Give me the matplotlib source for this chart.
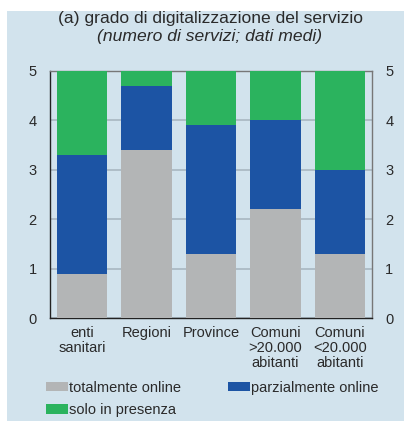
import matplotlib
matplotlib.use("Agg")
import matplotlib.pyplot as plt
from matplotlib.patches import Rectangle, Patch
import numpy as np

plt.rcParams['font.family'] = ['Liberation Sans', 'DejaVu Sans']

categories = ["enti\nsanitari", "Regioni", "Province", "Comuni\n>20.000\nabitanti", "Comuni\n<20.000\nabitanti"]
totalmente_online = [0.9, 3.4, 1.3, 2.2, 1.3]
parzialmente_online = [2.4, 1.3, 2.6, 1.8, 1.7]
solo_in_presenza = [1.7, 0.3, 1.1, 1.0, 2.0]
series_labels = ["totalmente online", "parzialmente online", "solo in presenza"]
yticks = [0, 1, 2, 3, 4, 5]

c_gray = "#b3b5b6"
c_blue = "#1c54a4"
c_green = "#2bb35e"
bg = "#d2e3ed"
txt = "#2a2a2a"

W, H = 413, 421
fig = plt.figure(figsize=(W / 100, H / 100), dpi=100, facecolor="white")
fig.patches.append(Rectangle((7 / W, 0), (404 - 7) / W, (H - 11) / H,
                             transform=fig.transFigure, facecolor=bg, edgecolor="none", zorder=-10))

ax = fig.add_axes([50 / W, (H - 318) / H, 322 / W, 247 / H])
ax.set_facecolor(bg)

x = np.arange(len(categories))
w = 0.78
g = np.array(totalmente_online)
b = np.array(parzialmente_online)
s = np.array(solo_in_presenza)
ax.bar(x, g, w, color=c_gray, zorder=3)
ax.bar(x, b, w, bottom=g, color=c_blue, zorder=3)
ax.bar(x, s, w, bottom=g + b, color=c_green, zorder=3)

ax.set_xlim(-0.5, len(categories) - 0.5)
ax.set_ylim(0, 5)
ax.set_yticks(yticks)
ax.set_yticklabels([str(v) for v in yticks])
ax.set_xticks(x)
ax.set_xticklabels(categories, linespacing=1.12)
ax.yaxis.grid(True, color="#a9b7c1", linewidth=1.2, zorder=1)
ax.set_axisbelow(True)
ax.tick_params(axis="y", length=0, pad=9.5, labelsize=10.5, labelcolor=txt,
               labelleft=True, labelright=True)
ax.tick_params(axis="x", length=0, pad=5.5, labelsize=10.5, labelcolor=txt)

for side in ["left", "bottom"]:
    ax.spines[side].set_color("#222222")
    ax.spines[side].set_linewidth(1.0)
for side in ["top", "right"]:
    ax.spines[side].set_color("#777777")
    ax.spines[side].set_linewidth(1.0)

fig.text(210 / W, 1 - 19 / H, "(a) grado di digitalizzazione del servizio",
         ha="center", va="center", fontsize=12.6, color=txt)
fig.text(210 / W, 1 - 37 / H, "(numero di servizi; dati medi)",
         ha="center", va="center", fontsize=12.6, color=txt, style="italic")

handles = [Patch(facecolor=c_gray, edgecolor="none", label=series_labels[0]),
           Patch(facecolor=c_green, edgecolor="none", label=series_labels[2]),
           Patch(facecolor=c_blue, edgecolor="none", label=series_labels[1])]
leg = fig.legend(handles=handles, ncol=2, loc="upper left",
                 bbox_to_anchor=(46 / W, 1 - 381 / H), frameon=False,
                 fontsize=10.5, handlelength=1.5, handleheight=0.6,
                 handletextpad=0.1, columnspacing=3.2, labelspacing=0.55,
                 borderpad=0, borderaxespad=0)
for t in leg.get_texts():
    t.set_color(txt)

fig.savefig("out.png", dpi=100, facecolor="white")
